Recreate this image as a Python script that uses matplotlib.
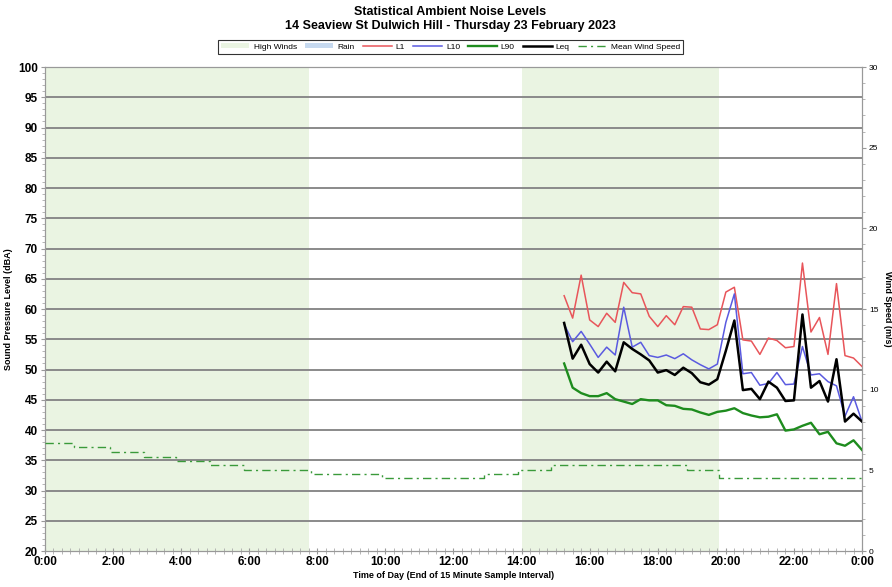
import numpy as np
import matplotlib
matplotlib.use("Agg")
import matplotlib.pyplot as plt
from matplotlib.patches import Patch
from matplotlib.lines import Line2D
from matplotlib.ticker import MultipleLocator, FuncFormatter

plt.rcParams['font.family'] = ['Liberation Sans Narrow', 'Liberation Sans', 'DejaVu Sans']

# noise data, 15 minute intervals from 15:15 to 24:00
start_hour = 15.25
L1 = [62.2, 58.5, 65.6, 58.2, 57.1, 59.3, 57.8, 64.4, 62.7, 62.5, 58.8, 57.1,
      58.9, 57.4, 60.4, 60.3, 56.7, 56.6, 57.4, 62.8, 63.6, 54.9, 54.7, 52.5,
      55.2, 54.8, 53.6, 53.8, 67.6, 56.2, 58.6, 52.5, 64.2, 52.3, 51.9, 50.5]
L10 = [57.5, 54.6, 56.3, 54.2, 52.0, 53.7, 52.4, 60.3, 53.7, 54.5, 52.3, 52.0,
       52.4, 51.8, 52.6, 51.6, 50.8, 50.1, 50.9, 57.8, 62.5, 49.3, 49.5, 47.4,
       47.7, 49.5, 47.5, 47.6, 53.8, 49.1, 49.3, 48.0, 47.3, 42.3, 45.5, 41.4]
L90 = [51.0, 47.0, 46.1, 45.6, 45.6, 46.1, 45.1, 44.7, 44.3, 45.1, 44.9, 44.9,
       44.1, 44.0, 43.5, 43.4, 42.9, 42.5, 43.0, 43.2, 43.6, 42.8, 42.4, 42.1,
       42.2, 42.6, 39.9, 40.1, 40.7, 41.2, 39.3, 39.7, 37.8, 37.4, 38.3, 36.7]
Leq = [57.7, 51.8, 54.1, 50.9, 49.5, 51.3, 49.7, 54.5, 53.4, 52.5, 51.5, 49.5,
       49.9, 49.1, 50.3, 49.4, 47.9, 47.5, 48.4, 53.1, 58.1, 46.6, 46.8, 45.1,
       48.0, 47.0, 44.8, 44.9, 59.1, 47.0, 48.1, 44.7, 51.7, 41.4, 42.7, 41.4]

# mean wind speed (m/s), value changes at these hours
wind_hours = [0.0, 0.85, 1.9, 2.9, 3.85, 4.85, 5.85, 7.8, 9.9, 12.9, 13.9, 14.85, 18.85, 19.8, 24.0]
wind_speed = [6.7, 6.45, 6.15, 5.85, 5.6, 5.35, 5.05, 4.8, 4.5, 4.8, 5.05, 5.35, 5.05, 4.5, 4.5]

# high wind periods (hours)
high_winds = [(0.0, 7.75), (14.0, 19.8)]

t = start_hour + 0.25 * np.arange(len(L1))

fig = plt.figure(figsize=(8.92, 5.87), dpi=100)
ax = fig.add_axes([0.0504, 0.0613, 0.916, 0.8245])

for a, b in high_winds:
    ax.axvspan(a, b, color='#eaf4e2', lw=0, zorder=0)

for y in range(25, 101, 5):
    ax.axhline(y, color='#8a8a8a', lw=1.4, zorder=1)

ax.plot(t, L1, color='#e8555a', lw=1.1, zorder=4)
ax.plot(t, L10, color='#5a5ae0', lw=1.1, zorder=4)
ax.plot(t, L90, color='#1e8c1e', lw=1.7, zorder=4)
ax.plot(t, Leq, color='black', lw=1.8, zorder=5)

ax.set_xlim(0, 24)
ax.set_ylim(20, 100)
ax.yaxis.set_major_locator(MultipleLocator(5))
ax.yaxis.set_minor_locator(MultipleLocator(1))
ax.xaxis.set_major_locator(MultipleLocator(2))
ax.xaxis.set_minor_locator(MultipleLocator(0.25))
ax.xaxis.set_major_formatter(FuncFormatter(lambda v, p: "%d:00" % (int(v) % 24)))
ax.tick_params(axis='y', which='major', labelsize=8.5, length=3, color='#999999', pad=2)
ax.tick_params(axis='y', which='minor', length=2, color='#aaaaaa')
ax.tick_params(axis='x', which='major', labelsize=8.5, length=5, direction='inout', color='#999999', pad=1)
ax.tick_params(axis='x', which='minor', length=4, direction='inout', color='#aaaaaa')
for lab in ax.get_xticklabels() + ax.get_yticklabels():
    lab.set_fontweight('bold')
for s in ax.spines.values():
    s.set_color('#999999')
ax.set_ylabel("Sound Pressure Level (dBA)", fontsize=6.5, fontweight='bold', labelpad=4)
ax.set_xlabel("Time of Day (End of 15 Minute Sample Interval)", fontsize=6.5, fontweight='bold', labelpad=2)

# wind speed on right axis
ax2 = ax.twinx()
ax2.step(wind_hours, wind_speed, where='post', color='#3a9a3a', lw=1.0,
         dashes=[6, 3, 1.5, 3], zorder=3)
ax2.set_ylim(0, 30)
ax2.yaxis.set_major_locator(MultipleLocator(5))
ax2.yaxis.set_minor_locator(MultipleLocator(1))
ax2.tick_params(axis='y', which='major', labelsize=6, length=3, color='#999999', pad=2)
ax2.tick_params(axis='y', which='minor', length=2, color='#aaaaaa')
for s in ax2.spines.values():
    s.set_color('#999999')
ax2.set_ylabel("Wind Speed (m/s)", fontsize=6.5, fontweight='bold', rotation=270, labelpad=10)

fig.text(0.505, 0.9796, "Statistical Ambient Noise Levels", ha='center', va='center',
         fontsize=9, fontweight='bold', family=['Liberation Sans', 'DejaVu Sans'])
fig.text(0.505, 0.9557, "14 Seaview St Dulwich Hill - Thursday 23 February 2023", ha='center', va='center',
         fontsize=9, fontweight='bold', family=['Liberation Sans', 'DejaVu Sans'])

handles = [Patch(facecolor='#eaf4e2', edgecolor='none', label='High Winds'),
           Patch(facecolor='#c6d9ef', edgecolor='none', label='Rain'),
           Line2D([], [], color='#e8555a', lw=1.1, label='L1'),
           Line2D([], [], color='#5a5ae0', lw=1.1, label='L10'),
           Line2D([], [], color='#1e8c1e', lw=1.7, label='L90'),
           Line2D([], [], color='black', lw=1.8, label='Leq'),
           Line2D([], [], color='#3a9a3a', lw=1.0, dashes=[6, 3, 1.5, 3], label='Mean Wind Speed')]
leg = fig.legend(handles=handles, loc='center', bbox_to_anchor=(0.505, 0.92), ncol=7,
                 fontsize=6, frameon=True, fancybox=False, edgecolor='black',
                 handlelength=3.4, handleheight=0.6, columnspacing=1.0, borderpad=0.4,
                 handletextpad=0.5)
leg.get_frame().set_linewidth(0.8)

fig.savefig("out.png", dpi=100)
